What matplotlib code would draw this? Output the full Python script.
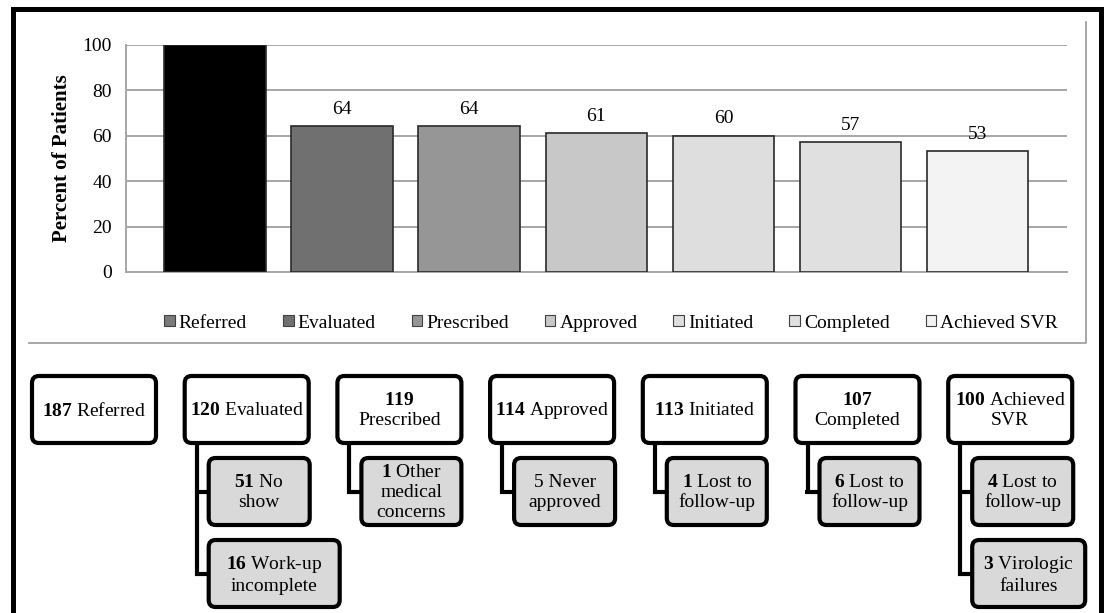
import numpy as np
import matplotlib.pyplot as plt
from matplotlib.patches import FancyBboxPatch, Patch

plt.rcParams['font.family'] = 'Liberation Serif'
plt.rcParams['mathtext.fontset'] = 'custom'
plt.rcParams['mathtext.rm'] = 'Liberation Serif'
plt.rcParams['mathtext.bf'] = 'Liberation Serif:bold'

# bar chart data
stages = ['Referred', 'Evaluated', 'Prescribed', 'Approved', 'Initiated', 'Completed', 'Achieved SVR']
percent = [100, 64, 64, 61, 60, 57, 53]

# flow chart data
counts = [187, 120, 119, 114, 113, 107, 100]
box_labels = ['{} Referred', '{} Evaluated', '{}\nPrescribed', '{} Approved',
              '{} Initiated', '{}\nCompleted', '{} Achieved\nSVR']
loss_counts = [[], [51, 16], [1], [5], [1], [6], [4, 3]]
loss_labels = [[], ['No\nshow', 'Work-up\nincomplete'], ['Other\nmedical\nconcerns'],
               ['Never\napproved'], ['Lost to\nfollow-up'], ['Lost to\nfollow-up'],
               ['Lost to\nfollow-up', 'Virologic\nfailures']]
loss_plain = [(3, 0)]  # the "5 Never approved" count is not bold

# styling
bar_colors = ['#000000', '#707070', '#969696', '#c8c8c8', '#dedede', '#e0e0e0', '#f3f3f3']
legend_colors = ['#7a7a7a'] + bar_colors[1:]
loss_box_w = [[], [101, 131], [100], [101], [100], [100], [101, 113]]

W, H = 1104, 613
fig = plt.figure(figsize=(W / 100, H / 100), dpi=100, facecolor='white')

# overlay in pixel coordinates for frame + flow chart
ov = fig.add_axes([0, 0, 1, 1])
ov.set_xlim(0, W)
ov.set_ylim(H, 0)
ov.axis('off')

# outer black frame (open at the bottom)
ov.plot([12.5, 12.5, 1101, 1101], [H + 5, 9, 9, H + 5], color='black', lw=3.6,
        solid_joinstyle='miter', clip_on=False)
# gray chart-area border (right and bottom)
ov.plot([29, 1086, 1086], [343, 343, 22], color='#a0a0a0', lw=1.3)

# bar chart
ax = fig.add_axes([125.7 / W, (H - 272) / H, 941.3 / W, 227.4 / H])
ax.patch.set_alpha(0)
x = np.arange(len(stages))
ax.bar(x, percent, width=0.8, color=bar_colors, edgecolor='#2a2a2a', lw=1.2, zorder=3)
for i, v in enumerate(percent):
    if v < 100:
        ax.annotate(str(v), (i, v), xytext=(0, 6), textcoords='offset points',
                    ha='center', va='bottom', fontsize=14)
ax.set_xlim(-0.703, len(stages) - 1 + 0.703)
ax.set_ylim(0, 100)
ax.set_yticks(range(0, 101, 20))
ax.set_xticks([])
ax.yaxis.grid(True, color='#a6a6a6', lw=1.4)
ax.set_axisbelow(True)
for s in ['top', 'right']:
    ax.spines[s].set_visible(False)
for s in ['left', 'bottom']:
    ax.spines[s].set_color('#a6a6a6')
    ax.spines[s].set_linewidth(1.4)
ax.tick_params(axis='y', length=0, pad=10, labelsize=14)
ax.set_ylabel('Percent of Patients', fontsize=15, fontweight='bold')
ax.yaxis.set_label_coords(-0.057, 0.5)

handles = [Patch(facecolor=c, edgecolor='#404040', lw=0.8) for c in legend_colors]
fig.legend(handles, stages, loc='center', bbox_to_anchor=(611 / W, (H - 323) / H),
           ncol=len(stages), frameon=False, fontsize=14, handlelength=0.55,
           handleheight=0.55, handletextpad=0.2, columnspacing=1.85)


def box(x0, y0, w, h, fc, text):
    ov.add_patch(FancyBboxPatch((x0, y0), w, h, boxstyle='round,pad=0,rounding_size=7',
                                fc=fc, ec='black', lw=3, zorder=3))
    ov.text(x0 + w / 2, y0 + h / 2 + 1, text, ha='center', va='center', fontsize=14,
            linespacing=1.22, zorder=4)


step = 152.7
pw, ph = 124, 67
top = 376
half = 2.1  # half the connector width in pixels
for i, n in enumerate(counts):
    left = 32 + i * step
    box(left, top, pw, ph, 'white', box_labels[i].format(r'$\mathbf{%d}$' % n))
    if not loss_counts[i]:
        continue
    vx = left + 12
    ys = []
    for j, (m, lab) in enumerate(zip(loss_counts[i], loss_labels[i])):
        cy0 = 458 + j * 82
        num = str(m) if (i, j) in loss_plain else r'$\mathbf{%d}$' % m
        first, *rest = lab.split('\n')
        txt = '\n'.join([num + ' ' + first] + rest)
        cl = left + 24
        box(cl, cy0, loss_box_w[i][j], ph, '#d9d9d9', txt)
        cy = cy0 + ph / 2
        ys.append(cy)
        ov.plot([vx - half, cl + 2], [cy, cy], color='black', lw=3, zorder=2,
                solid_capstyle='butt')
    ov.plot([vx, vx], [top + ph, ys[-1] + half], color='black', lw=3, zorder=2,
            solid_capstyle='butt')

fig.savefig('out.png', dpi=100)
